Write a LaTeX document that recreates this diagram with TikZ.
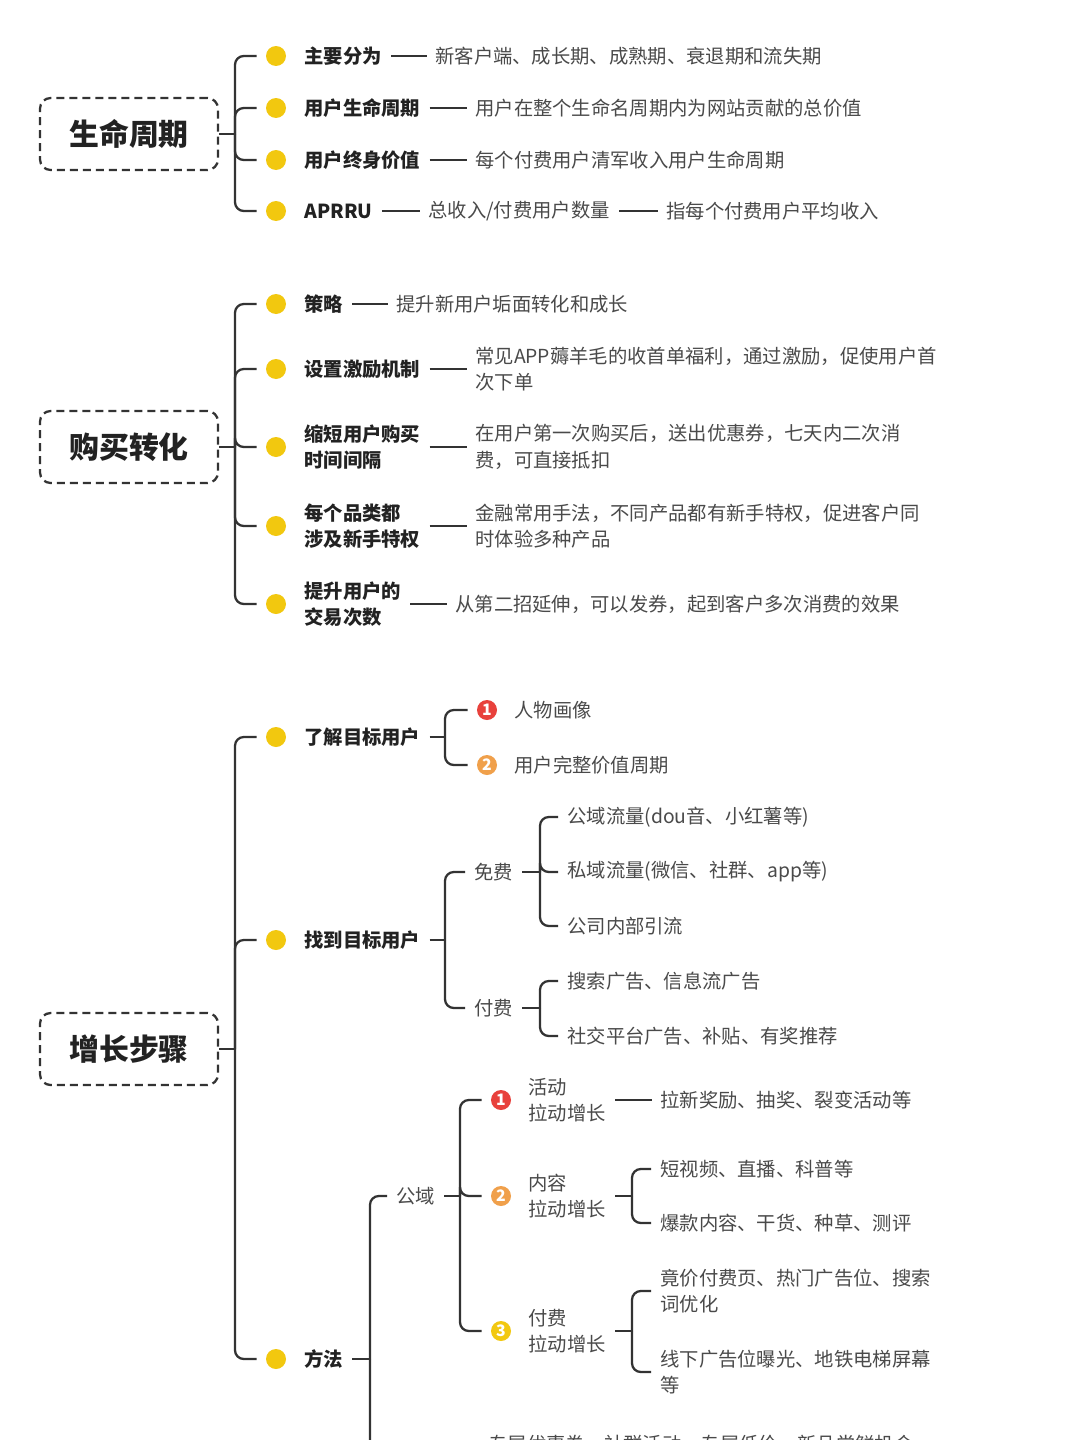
\documentclass[tikz,border=0pt]{standalone}
\usepackage{fontspec}
\setmainfont{Noto Sans CJK SC}
\definecolor{linec}{HTML}{333333}
\definecolor{dotc}{HTML}{F2C80F}
\definecolor{labc}{HTML}{222222}
\definecolor{txtc}{HTML}{4A4A4A}
\definecolor{bred}{HTML}{E8413C}
\definecolor{borange}{HTML}{F0A04B}
\definecolor{byellow}{HTML}{F2C811}

\tikzset{
  conn/.style={draw=linec, line width=1.3pt, rounded corners=5pt},
  link/.style={draw=linec, line width=1.3pt},
  dot/.style={circle, fill=dotc, minimum size=0.4cm, inner sep=0},
  lbl/.style={anchor=west, inner sep=0, font=\fontsize{11}{15}\selectfont\bfseries, text=labc, align=left},
  txt/.style={anchor=west, inner sep=0, font=\fontsize{11}{15}\selectfont, text=txtc, align=left},
  root/.style={draw=linec, dash pattern=on 0.16cm off 0.1cm, rounded corners=6pt,
    line width=1.3pt, minimum width=3.56cm, minimum height=1.44cm,
    font=\fontsize{17}{20}\selectfont\bfseries, text=labc},
  badge/.style={circle, minimum size=0.4cm, inner sep=0, text=white,
    font=\fontsize{9}{9}\selectfont\bfseries},
}

% parent, bar position, children
\newcommand\fork[4][0.18cm]{%
  \draw[conn, rounded corners=0pt, shorten <=#1] (#2.east) -- (#3,0 |- #2.east);
  \foreach \c in {#4}
    \draw[conn, shorten >=0.18cm] (#3,0 |- #2.east) |- (\c.west);}
\newcommand\join[2]{\draw[link] ([xshift=0.18cm]#1.east) -- ([xshift=-0.16cm]#2.west);}

\begin{document}
\begin{tikzpicture}[x=0.02cm, y=-0.02cm]
  \useasboundingbox[fill=white] (0,0) rectangle (1080,1440);

  % life cycle
  \node[root] (life) at (129,134) {生命周期};
  \foreach \n/\y in {a/56, b/108, c/160, d/211}
    \node[dot] (l\n) at (276,\y) {};
  \fork[0pt]{life}{235}{la,lb,lc,ld}
  \node[lbl] (la1) at (304,56) {主要分为};
  \node[txt] (la2) at (435,56) {新客户端、成长期、成熟期、衰退期和流失期};
  \node[lbl] (lb1) at (304,108) {用户生命周期};
  \node[txt] (lb2) at (475,108) {用户在整个生命名周期内为网站贡献的总价值};
  \node[lbl] (lc1) at (304,160) {用户终身价值};
  \node[txt] (lc2) at (475,160) {每个付费用户清军收入用户生命周期};
  \node[lbl] (ld1) at (304,211) {APRRU};
  \node[txt] (ld2) at (428,211) {总收入/付费用户数量};
  \node[txt] (ld3) at (666,211) {指每个付费用户平均收入};
  \join{la1}{la2} \join{lb1}{lb2} \join{lc1}{lc2} \join{ld1}{ld2} \join{ld2}{ld3}

  % purchase conversion
  \node[root] (buy) at (129,447) {购买转化};
  \foreach \n/\y in {a/304, b/369, c/447, d/526, e/604}
    \node[dot] (b\n) at (276,\y) {};
  \fork[0pt]{buy}{235}{ba,bb,bc,bd,be}
  \node[lbl] (ba1) at (304,304) {策略};
  \node[txt] (ba2) at (396,304) {提升新用户垢面转化和成长};
  \node[lbl] (bb1) at (304,369) {设置激励机制};
  \node[txt] (bb2) at (475,369) {常见APP薅羊毛的收首单福利，通过激励，促使用户首\\次下单};
  \node[lbl] (bc1) at (304,447) {缩短用户购买\\时间间隔};
  \node[txt] (bc2) at (475,447) {在用户第一次购买后，送出优惠券，七天内二次消\\费，可直接抵扣};
  \node[lbl] (bd1) at (304,526) {每个品类都\\涉及新手特权};
  \node[txt] (bd2) at (475,526) {金融常用手法，不同产品都有新手特权，促进客户同\\时体验多种产品};
  \node[lbl] (be1) at (304,604) {提升用户的\\交易次数};
  \node[txt] (be2) at (455,604) {从第二招延伸，可以发券，起到客户多次消费的效果};
  \join{ba1}{ba2} \join{bb1}{bb2} \join{bc1}{bc2} \join{bd1}{bd2} \join{be1}{be2}

  % growth steps
  \node[root] (grow) at (129,1049) {增长步骤};
  \foreach \n/\y in {a/737, b/940, c/1359}
    \node[dot] (g\n) at (276,\y) {};
  \fork[0pt]{grow}{235}{ga,gb,gc}
  \node[lbl] (ga1) at (304,737) {了解目标用户};
  \node[lbl] (gb1) at (304,940) {找到目标用户};
  \node[lbl] (gc1) at (304,1359) {方法};

  \node[badge, fill=bred] (k1) at (487,710) {1};
  \node[badge, fill=borange] (k2) at (487,765) {2};
  \node[txt] at (514,710) {人物画像};
  \node[txt] at (514,765) {用户完整价值周期};
  \fork{ga1}{445}{k1,k2}

  \node[txt] (free) at (474,872) {免费};
  \node[txt] (paid) at (474,1008) {付费};
  \fork{gb1}{445}{free,paid}
  \node[txt] (f1) at (567,817) {公域流量(dou音、小红薯等)};
  \node[txt] (f2) at (567,872) {私域流量(微信、社群、app等)};
  \node[txt] (f3) at (567,926) {公司内部引流};
  \fork{free}{540}{f1,f2,f3}
  \node[txt] (p1) at (567,981) {搜索广告、信息流广告};
  \node[txt] (p2) at (567,1036) {社交平台广告、补贴、有奖推荐};
  \fork{paid}{540}{p1,p2}

  \node[txt] (pub) at (396,1196) {公域};
  \coordinate (more) at (400,1520);
  \fork{gc1}{370}{pub,more}
  \node[badge, fill=bred] (m1) at (501,1100) {1};
  \node[badge, fill=borange] (m2) at (501,1196) {2};
  \node[badge, fill=byellow] (m3) at (501,1331) {3};
  \fork{pub}{460}{m1,m2,m3}
  \node[txt] (m1t) at (528,1100) {活动\\拉动增长};
  \node[txt] (m2t) at (528,1196) {内容\\拉动增长};
  \node[txt] (m3t) at (528,1331) {付费\\拉动增长};
  \node[txt] (a1) at (660,1100) {拉新奖励、抽奖、裂变活动等};
  \join{m1t}{a1}
  \node[txt] (c1) at (660,1169) {短视频、直播、科普等};
  \node[txt] (c2) at (660,1223) {爆款内容、干货、种草、测评};
  \fork{m2t}{632}{c1,c2}
  \node[txt] (d1) at (660,1291) {竟价付费页、热门广告位、搜索\\词优化};
  \node[txt] (d2) at (660,1372) {线下广告位曝光、地铁电梯屏幕\\等};
  \fork{m3t}{632}{d1,d2}

  \node[txt] (priv) at (488,1444) {专属优惠券、社群活动、专属低价、新品尝鲜机会};
  \draw[link] ([xshift=-0.4cm]priv.west) -- ([xshift=-0.16cm]priv.west);
\end{tikzpicture}
\end{document}
